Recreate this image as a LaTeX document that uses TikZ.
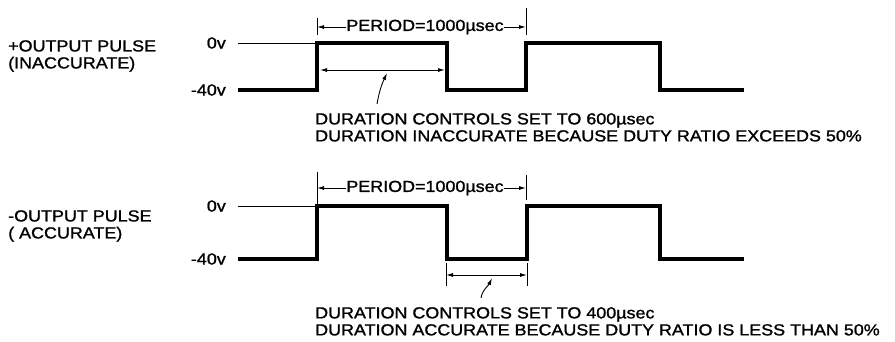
\documentclass[tikz,border=0pt]{standalone}
\usepackage{fontspec}
\setmainfont{Liberation Sans}[FakeStretch=1.12,FakeBold=1.3]
\usetikzlibrary{arrows.meta,positioning}

\begin{document}
\begin{tikzpicture}[x=1pt,y=-1pt,
    lbl/.style={font=\fontsize{16}{17}\selectfont,inner sep=0pt,align=left},
    wave/.style={line width=3.6pt,line join=miter,line cap=rect},
    thin/.style={line width=0.9pt},
    dim/.style={{Latex[length=7pt,width=4pt]}-{Latex[length=7pt,width=4pt]},line width=0.9pt},
    lead/.style={-{Latex[length=7pt,width=4pt]},line width=0.9pt}
  ]
    \useasboundingbox (0,0) rectangle (895,341);
    % upper trace
    \node[lbl,anchor=west] (plus) at (8,56) {+OUTPUT PULSE\\(INACCURATE)};
    \node[lbl,anchor=east] (zu) at (226,43) {0v};
    \node[lbl,anchor=east] (mu) at (226,90) {-40v};
    \draw[thin] ([xshift=12pt]zu.east) -- (317,43);
    \draw[wave] ([xshift=14pt]mu.east) -- (317,90) -- (317,43) -- (447,43) -- (447,90)
      -- (526,90) -- (526,43) -- (660,43) -- (660,90) -- (742,90);
    \coordinate (pua) at (317,27);
    \coordinate (pub) at (526,27);
    \draw[thin] (317,18) -- (317,35);
    \draw[thin] (526,8) -- (526,35);
    \node[lbl] (peru) at (425,27) {PERIOD=1000µsec};
    \draw[lead] (peru) -- (pua);
    \draw[lead] (peru) -- (pub);
    \coordinate (dua) at (320,70);
    \coordinate (dub) at (445,70);
    \draw[dim] (dua) -- (dub);
    \node[lbl,anchor=north west] (txtu) at (315,113)
      {DURATION CONTROLS SET TO 600µsec\\DURATION INACCURATE BECAUSE DUTY RATIO EXCEEDS 50\%};
    \draw[lead] ([xshift=62pt,yshift=9pt]txtu.north west) to[out=80,in=-115] (387,73);
    % lower trace
    \node[lbl,anchor=west] (minus) at (8,226) {-OUTPUT PULSE\\( ACCURATE)};
    \node[lbl,anchor=east] (zl) at (226,206) {0v};
    \node[lbl,anchor=east] (ml) at (226,259) {-40v};
    \draw[thin] ([xshift=12pt]zl.east) -- (317,206);
    \draw[wave] ([xshift=14pt]ml.east) -- (317,259) -- (317,206) -- (447,206) -- (447,259)
      -- (527,259) -- (527,206) -- (660,206) -- (660,259) -- (742,259);
    \coordinate (pla) at (317,188);
    \coordinate (plb) at (526,188);
    \draw[thin] (317,172) -- (317,204);
    \draw[thin] (526,175) -- (526,200);
    \node[lbl] (perl) at (425,188) {PERIOD=1000µsec};
    \draw[lead] (perl) -- (pla);
    \draw[lead] (perl) -- (plb);
    \draw[thin] (446,263) -- (446,286);
    \draw[thin] (527,263) -- (527,286);
    \coordinate (dla) at (446,275);
    \coordinate (dlb) at (527,275);
    \draw[dim] (dla) -- (dlb);
    \node[lbl,anchor=north west] (txtl) at (315,307)
      {DURATION CONTROLS SET TO 400µsec\\DURATION ACCURATE BECAUSE DUTY RATIO IS LESS THAN 50\%};
    \draw[lead] ([xshift=166pt,yshift=9pt]txtl.north west) to[out=80,in=-115] (492,278);
\end{tikzpicture}
\end{document}
